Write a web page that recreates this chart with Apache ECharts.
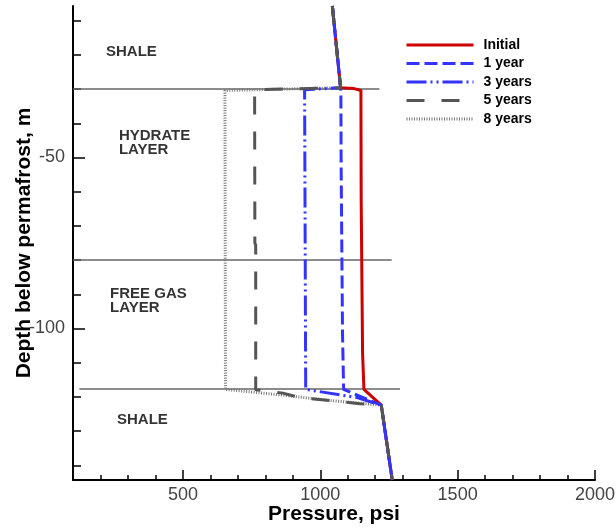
<!DOCTYPE html>
<html>
<head>
<meta charset="utf-8">
<script src="https://cdn.jsdelivr.net/npm/echarts@6/dist/echarts.min.js"></script>
<style>html,body{margin:0;padding:0;background:#fff;}#c{width:616px;height:531px;}</style>
</head>
<body>
<div id="c"></div>
<script>
// Pressure (psi) vs depth below permafrost (m)
const initial = [[1044,-5.7],[1074,-29.6],[1120,-29.8],[1148,-30.4],[1149,-63.2],[1153,-63.6],[1154,-107.2],[1158,-107.6],[1159,-117.8],[1222,-122.4],[1262,-144.3]];
const year1 = [[1044,-5.7],[1074,-29.6],[1075,-31],[1076,-52.3],[1080,-52.8],[1081,-101.3],[1085,-101.8],[1085,-117.8],[1222,-122.4],[1262,-144.3]];
const years3 = [[1044,-5.7],[1074,-29.6],[943,-30.2],[947,-117.8],[1134,-120.2],[1222,-122.4],[1262,-144.3]];
const years5 = [[1044,-5.7],[1074,-29.6],[761,-30.2],[762,-75],[765,-75.6],[765,-117.9],[864,-118.9],[926,-120.2],[1145,-122.0],[1222,-122.4],[1262,-144.3]];
const years8 = [[1044,-5.7],[1074,-29.6],[653,-30.4],[655,-117.8],[841,-119.3],[963,-120.4],[1084,-121.4],[1222,-122.4],[1262,-144.3]];
const boundaryTop = [[100,-30],[1215,-30]];
const boundaryMid = [[100,-80],[1260,-80]];
const boundaryBot = [[123,-117.7],[1290,-117.7]];
const layerLabels = [
  {name:'SHALE', value:[220,-19.0]},
  {name:'HYDRATE\nLAYER', value:[267,-45.6]},
  {name:'FREE GAS\nLAYER', value:[235,-91.8]},
  {name:'SHALE', value:[260,-126.8]}
];
const seriesNames = ['Initial','1 year','3 years','5 years','8 years'];
const xMajor = [500,1000,1500,2000];
const xMinor = [200,300,400,600,700,800,900,1100,1200,1300,1400,1600,1700,1800,1900];
const yMajor = [-50,-100];
const yMinor = [-10,-20,-30,-40,-60,-70,-80,-90,-110,-120,-130,-140];

const X_MIN = 100, X_MAX = 2000, Y_MIN = -144.3, Y_MAX = -5.7;
const font = 'Liberation Sans, Arial, sans-serif';

const chart = echarts.init(document.getElementById('c'));
function line(name, data, color, type, width, z) {
  return {name, type:'line', data, showSymbol:false, symbol:'none', z,
    lineStyle:{color, type, width}, itemStyle:{color}, animation:false};
}
function boundary(data) {
  return {type:'line', data, showSymbol:false, symbol:'none', silent:true, z:1,
    lineStyle:{color:'#666', width:1.5}, animation:false};
}
chart.setOption({
  animation:false,
  backgroundColor:'#fff',
  grid:{left:73, top:6, right:21, bottom:51, containLabel:false, outerBoundsMode:'none'},
  legend:{
    data:seriesNames, orient:'vertical', left:400, top:33,
    itemWidth:67, itemHeight:14, itemGap:4.5,
    itemStyle:{opacity:0, color:'transparent', borderColor:'transparent', borderWidth:0},
    lineStyle:{width:3},
    textStyle:{fontFamily:font, fontSize:14, fontWeight:'bold', color:'#000', padding:[0,0,0,5]}
  },
  xAxis:[{
    type:'value', min:X_MIN, max:X_MAX,
    name:'Pressure, psi', nameLocation:'middle', nameGap:24, nameMoveOverlap:false,
    nameTextStyle:{fontFamily:font, fontSize:21, fontWeight:'bold', color:'#000'},
    axisLine:{show:true, lineStyle:{color:'#000', width:2}},
    axisTick:{show:true, inside:true, length:10, customValues:xMajor, lineStyle:{color:'#000', width:1.5}},
    axisLabel:{show:true, customValues:xMajor, margin:6, fontFamily:font, fontSize:18, color:'#444', formatter:v=>String(v)},
    splitLine:{show:false}
  },{
    type:'value', min:X_MIN, max:X_MAX, position:'bottom',
    axisLine:{show:false},
    axisTick:{show:true, inside:true, length:5, customValues:xMinor, lineStyle:{color:'#000', width:1.5}},
    axisLabel:{show:false}, splitLine:{show:false}
  }],
  yAxis:[{
    type:'value', min:Y_MIN, max:Y_MAX,
    name:'Depth below permafrost, m', nameLocation:'middle', nameGap:38, nameMoveOverlap:false,
    nameTextStyle:{fontFamily:font, fontSize:21, fontWeight:'bold', color:'#000'},
    axisLine:{show:true, lineStyle:{color:'#000', width:2}},
    axisTick:{show:true, inside:true, length:12, customValues:yMajor, lineStyle:{color:'#000', width:1.5}},
    axisLabel:{show:true, customValues:yMajor, margin:8, fontFamily:font, fontSize:18, color:'#444', formatter:v=>String(v)},
    splitLine:{show:false}
  },{
    type:'value', min:Y_MIN, max:Y_MAX, position:'left',
    axisLine:{show:false},
    axisTick:{show:true, inside:true, length:8, customValues:yMinor, lineStyle:{color:'#000', width:1.5}},
    axisLabel:{show:false}, splitLine:{show:false}
  }],
  series:[
    boundary(boundaryTop), boundary(boundaryMid), boundary(boundaryBot),
    line('8 years', years8, '#777777', [1,1.5], 3, 2),
    line('Initial', initial, '#cc0000', 'solid', 3, 3),
    line('1 year', year1, '#3333ff', [13,5], 3, 4),
    line('3 years', years3, '#3333ff', [20,4,2,4,2,4], 3, 5),
    line('5 years', years5, '#555555', [18,17], 3, 6),
    {type:'scatter', data:layerLabels, symbolSize:0, silent:true, z:7,
     label:{show:true, position:'right', distance:0, formatter:p=>p.name,
       fontFamily:font, fontSize:15, fontWeight:'bold', color:'#000', lineHeight:14, align:'left'}}
  ]
});
</script>
</body>
</html>
